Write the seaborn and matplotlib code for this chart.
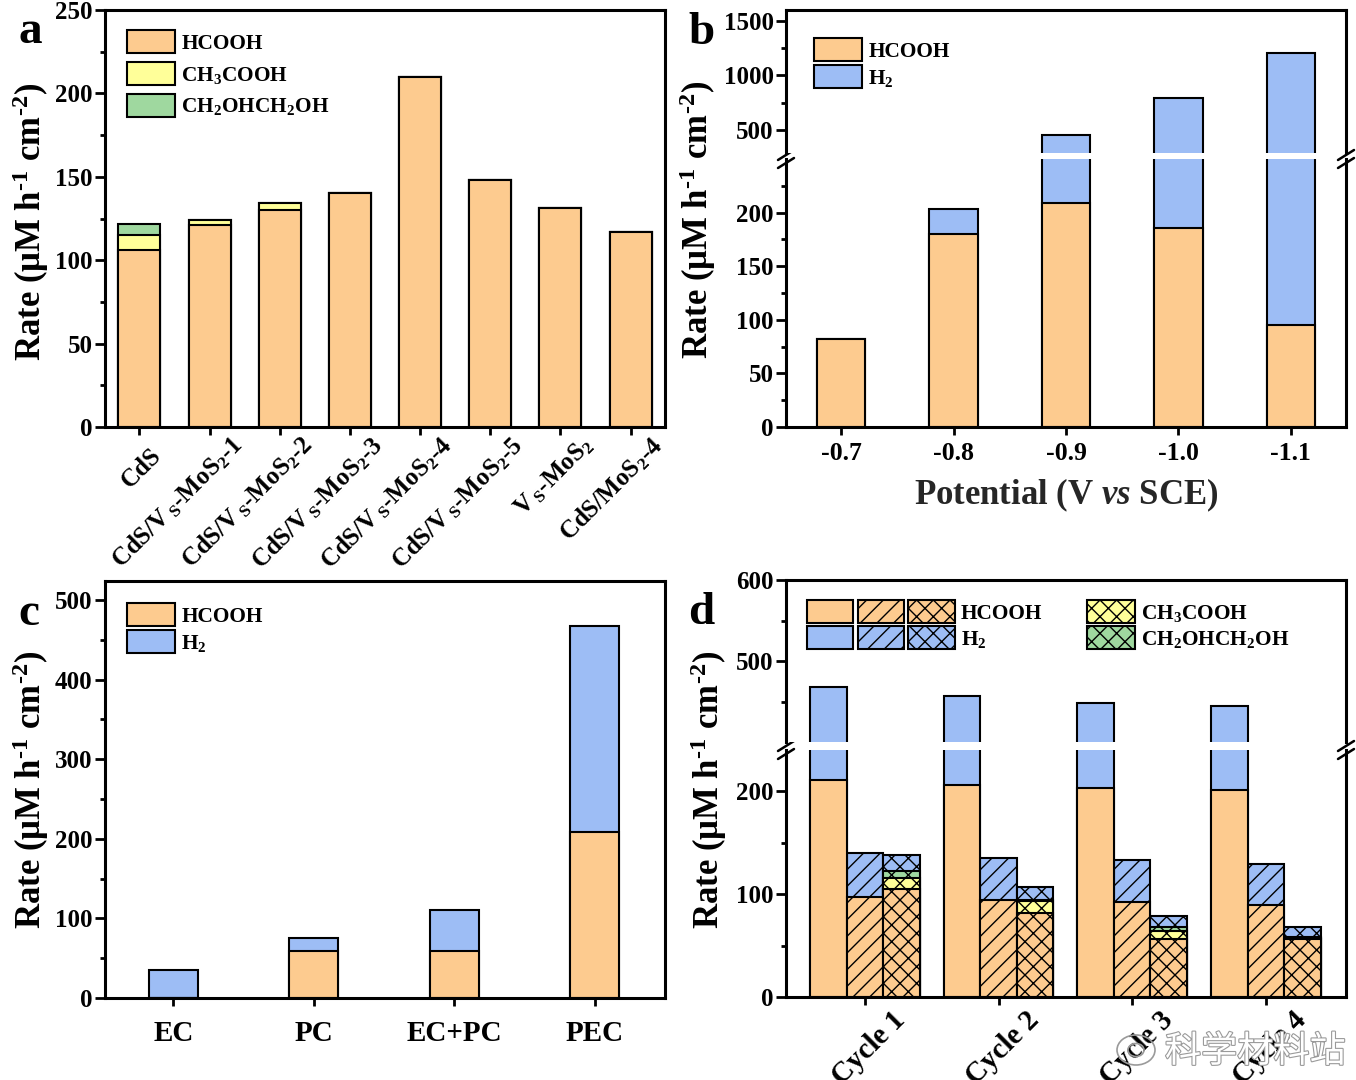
import matplotlib
matplotlib.use("Agg")
import matplotlib.pyplot as plt
import matplotlib.patheffects as pe
import matplotlib.transforms as mtrans
from matplotlib.legend_handler import HandlerTuple
from matplotlib.patches import Ellipse, Patch
import numpy as np
import pandas as pd
import seaborn as sns

# Data
a_cats = ["CdS", "CdS/V$\\,_{S}$-MoS$_{2}$-1", "CdS/V$\\,_{S}$-MoS$_{2}$-2", "CdS/V$\\,_{S}$-MoS$_{2}$-3",
          "CdS/V$\\,_{S}$-MoS$_{2}$-4", "CdS/V$\\,_{S}$-MoS$_{2}$-5", "V$\\,_{S}$-MoS$_{2}$", "CdS/MoS$_{2}$-4"]
a_hcooh = [106, 121, 130, 140, 210, 148, 131, 117]
a_acetic = [9, 3, 4, 0, 0, 0, 0, 0]
a_glycol = [7, 0, 0, 0, 0, 0, 0, 0]

b_cats = ["-0.7", "-0.8", "-0.9", "-1.0", "-1.1"]
b_hcooh = [82, 180, 209, 186, 95]
b_h2 = [0, 23, 248, 610, 1105]

c_cats = ["EC", "PC", "EC+PC", "PEC"]
c_hcooh = [0, 59, 59, 209]
c_h2 = [35, 17, 52, 259]

d_cats = ["Cycle 1", "Cycle 2", "Cycle 3", "Cycle 4"]
d_runs = ["first", "second", "third"]
d_first_hcooh = [211, 206, 203, 201]
d_first_h2 = [257, 252, 246, 244]
d_second_hcooh = [97, 94, 92, 89]
d_second_h2 = [43, 41, 41, 40]
d_third_hcooh = [105, 82, 56, 56]
d_third_acetic = [11, 11, 8, 1]
d_third_glycol = [6, 1, 4, 1]
d_third_h2 = [16, 13, 11, 10]

W, H = 1356, 1080
HCOOH = "#FDCB8F"
H2 = "#9DBDF5"
ACETIC = "#FFFF99"
GLYCOL = "#9FD89F"

sns.set_style("ticks")
plt.rcParams["font.family"] = ["Liberation Serif", "DejaVu Sans"]
plt.rcParams["font.weight"] = "bold"
plt.rcParams["mathtext.fontset"] = "custom"
plt.rcParams["mathtext.rm"] = "Liberation Serif:bold"
plt.rcParams["mathtext.it"] = "Liberation Serif:italic:bold"
plt.rcParams["mathtext.bf"] = "Liberation Serif:bold"
plt.rcParams["mathtext.default"] = "regular"
plt.rcParams["hatch.linewidth"] = 1.0
plt.rcParams["axes.edgecolor"] = "black"
plt.rcParams["xtick.color"] = "black"
plt.rcParams["ytick.color"] = "black"
plt.rcParams["text.color"] = "black"

fig = plt.figure(figsize=(W / 100, H / 100), dpi=100)


def px_axes(left, top, right, bottom):
    return fig.add_axes([left / W, 1 - bottom / H, (right - left) / W, (bottom - top) / H])


def style_axes(ax, major, minor, xticks=True):
    ax.set_yticks(major)
    ax.set_yticks(minor, minor=True)
    ax.tick_params(axis="y", which="major", length=7, width=2, labelsize=18, pad=2)
    ax.tick_params(axis="y", which="minor", length=3.5, width=2, left=True)
    ax.tick_params(axis="x", which="major", length=6, width=2, labelsize=18, bottom=xticks, labelbottom=xticks)
    for s in ax.spines.values():
        s.set_linewidth(2.2)
        s.set_visible(True)
    ax.set_xlabel("")
    ax.set_ylabel("")


def stacked(ax, cats, layers, width):
    # tallest total first, the lower layers are painted over it
    totals = np.cumsum([v for v, c in layers], axis=0)
    for tot, (v, c) in zip(totals[::-1], layers[::-1]):
        sns.barplot(x=cats, y=tot, color=c, saturation=1, edgecolor="black", linewidth=1.5, width=width, ax=ax)


def break_marks(ax):
    for xa in (0, 1):
        for dy in (-4, 4):
            x0, y0 = ax.transAxes.transform((xa, 1))
            xs = [x0 - 8, x0 + 8]
            ys = [y0 + dy - 5, y0 + dy + 5]
            ax.plot(xs, ys, color="black", lw=1.8, transform=None, clip_on=False, zorder=10)


def legend_at(ax, handles, labels, left, top, labelspacing=0.17, handlelength=2.24, **kw):
    leg = ax.legend(handles, labels, loc="upper left", bbox_to_anchor=(left / W, 1 - top / H),
                    bbox_transform=fig.transFigure, frameon=False, borderpad=0, borderaxespad=0,
                    fontsize=15.4, handlelength=handlelength, handleheight=1.28,
                    labelspacing=labelspacing, handletextpad=0.3, **kw)
    return leg


def swatch(c, hatch=None):
    return Patch(facecolor=c, edgecolor="black", linewidth=1.5, hatch=hatch)


rate_label = "Rate (μM h$^{\u20101}$ cm$^{\u20102}$)"

# a
ax = px_axes(105, 10, 665, 427)
stacked(ax, a_cats, [(a_hcooh, HCOOH), (a_acetic, ACETIC), (a_glycol, GLYCOL)], 0.6)
style_axes(ax, [0, 50, 100, 150, 200, 250], [25, 75, 125, 175, 225])
ax.set_xlim(-0.49, 7.49)
ax.set_ylim(0, 250)
ax.set_xticks(range(len(a_cats)))
ax.set_xticklabels(a_cats, rotation=45, ha="right", rotation_mode="anchor", fontsize=18)
for t in ax.get_xticklabels():
    if t.get_text() == "CdS":
        offset = mtrans.ScaledTranslation(10 / 100, -4 / 100, fig.dpi_scale_trans)
    else:
        offset = mtrans.ScaledTranslation(20 / 100, 8 / 100, fig.dpi_scale_trans)
    t.set_transform(t.get_transform() + offset)
legend_at(ax, [swatch(HCOOH), swatch(ACETIC), swatch(GLYCOL)],
          ["HCOOH", "CH$_{3}$COOH", "CH$_{2}$OHCH$_{2}$OH"], 127, 30, labelspacing=0.38)

# b, broken axis
low = px_axes(786, 159, 1346, 427)
up = px_axes(786, 10, 1346, 153)
for axis in (low, up):
    stacked(axis, b_cats, [(b_hcooh, HCOOH), (b_h2, H2)], 0.43)
    axis.set_xlim(-0.49, 4.49)
style_axes(low, [0, 50, 100, 150, 200], [25, 75, 125, 175, 225])
style_axes(up, [500, 1000, 1500], [750, 1250], xticks=False)
low.set_ylim(0, 250)
up.set_ylim(291, 1596)
low.spines["top"].set_visible(False)
up.spines["bottom"].set_visible(False)
low.set_xticks(range(len(b_cats)))
low.set_xticklabels(b_cats, fontsize=18.5)
low.tick_params(axis="x", pad=5)
low.set_xlabel("Potential (V $\\mathit{vs}$ SCE)", fontsize=25, fontweight="bold", labelpad=8)
break_marks(low)
legend_at(up, [swatch(HCOOH), swatch(H2)], ["HCOOH", "H$_{2}$"], 814, 38, labelspacing=0.15)

# c
ax = px_axes(105, 581, 665, 998)
stacked(ax, c_cats, [(c_hcooh, HCOOH), (c_h2, H2)], 0.35)
style_axes(ax, [0, 100, 200, 300, 400, 500], [50, 150, 250, 350, 450])
ax.set_xlim(-0.4875, 3.5)
ax.set_ylim(0, 524)
ax.set_xticks(range(len(c_cats)))
ax.set_xticklabels(c_cats, fontsize=21)
ax.tick_params(axis="x", pad=10)
legend_at(ax, [swatch(HCOOH), swatch(H2)], ["HCOOH", "H$_{2}$"], 127, 603, labelspacing=0.15)

# d, broken axis, three bars per cycle
low = px_axes(786, 750, 1346, 997)
up = px_axes(786, 580, 1346, 742)
blank = [np.nan] * 4
d_layers = [
    (d_first_hcooh, d_second_hcooh, d_third_hcooh, HCOOH),
    (blank, blank, d_third_acetic, ACETIC),
    (blank, blank, d_third_glycol, GLYCOL),
    (d_first_h2, d_second_h2, d_third_h2, H2),
]
tops = np.nancumsum([np.array(row[:3], dtype=float) for row in d_layers], axis=0)
for axis in (low, up):
    for i in range(3, -1, -1):
        first, second, third, color = d_layers[i]
        rows = []
        for j, run in enumerate(d_runs):
            src = (first, second, third)[j]
            for k, cat in enumerate(d_cats):
                rows.append({"cycle": cat, "run": run,
                             "rate": np.nan if np.isnan(src[k]) else tops[i, j, k]})
        df = pd.DataFrame(rows)
        n_before = len(axis.containers)
        sns.barplot(data=df, x="cycle", y="rate", hue="run", hue_order=d_runs, order=d_cats,
                    palette=[color] * 3, saturation=1, edgecolor="black", linewidth=1.5,
                    width=0.82, gap=0, legend=False, ax=axis)
        for cont, hatch in zip(axis.containers[n_before:], [None, "//", "xx"]):
            for bar in cont:
                bar.set_hatch(hatch)
    axis.set_xlim(-0.59, 3.6)
style_axes(low, [0, 100, 200], [50, 150])
style_axes(up, [500, 600], [450, 550], xticks=False)
low.set_ylim(0, 240)
up.set_ylim(401, 600)
low.spines["top"].set_visible(False)
up.spines["bottom"].set_visible(False)
low.set_xticks(range(len(d_cats)))
offset = mtrans.ScaledTranslation(27 / 100, 4 / 100, fig.dpi_scale_trans)
low.set_xticklabels(d_cats, rotation=45, ha="right", rotation_mode="anchor", fontsize=21)
for t in low.get_xticklabels():
    t.set_transform(t.get_transform() + offset)
break_marks(low)
triple = HandlerTuple(ndivide=3, pad=0.2)
leg1 = legend_at(up, [(swatch(HCOOH), swatch(HCOOH, "//"), swatch(HCOOH, "xx")),
                      (swatch(H2), swatch(H2, "//"), swatch(H2, "xx"))],
                 ["HCOOH", "H$_{2}$"], 807, 600, labelspacing=0.12, handlelength=6.9,
                 handler_map={tuple: triple})
up.add_artist(leg1)
legend_at(up, [swatch(ACETIC, "xx"), swatch(GLYCOL, "xx")],
          ["CH$_{3}$COOH", "CH$_{2}$OHCH$_{2}$OH"], 1087, 600, labelspacing=0.12)

# y labels and panel letters
for x, y in [(31, 222), (698, 220), (31, 790), (709, 790)]:
    fig.text(x / W, 1 - y / H, rate_label, rotation=90, ha="center", va="center", fontsize=25)
for letter, x, y in [("a", 18, 43), ("b", 688, 44), ("c", 18, 625), ("d", 688, 624)]:
    fig.text(x / W, 1 - y / H, letter, fontsize=34, ha="left", va="baseline")

# watermark
fig.text(1165 / W, 1 - 1062 / H, "科学材料站", fontsize=26, color="white", weight="normal",
         family=["Noto Sans CJK SC", "DejaVu Sans"],
         path_effects=[pe.withStroke(linewidth=1.6, foreground="#9a9a9a")], zorder=20)
for w, h in [(38, 30), (16, 13)]:
    fig.add_artist(Ellipse((1136 / W, 1 - 1050 / H), w / W, h / H, transform=fig.transFigure,
                           facecolor="none", edgecolor="#9a9a9a", linewidth=1.2, zorder=20))

fig.savefig("out.png", dpi=100)
